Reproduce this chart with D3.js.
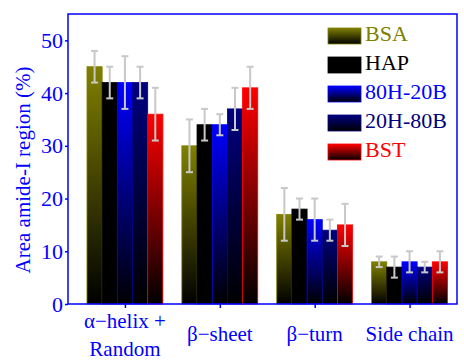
<!DOCTYPE html>
<html>
<head>
<meta charset="utf-8">
<script src="https://cdn.jsdelivr.net/npm/d3@7"></script>
<style>
  body { margin: 0; background: #fff; }
  svg { display: block; font-family: "Liberation Serif", serif; }
</style>
</head>
<body>
<svg id="chart" width="464" height="360"></svg>
<script>
// data
const categories = [["\u03b1\u2212helix +", "Random"], ["\u03b2\u2212sheet"], ["\u03b2\u2212turn"], ["Side chain"]];
const series = ["BSA", "HAP", "80H-20B", "20H-80B", "BST"];
const colors = ["#808000", "#000000", "#0000ff", "#000080", "#ff0000"];
const values = [
  [45, 30, 17, 8],
  [42, 34, 18, 7],
  [42, 34, 16, 8],
  [42, 37, 14, 7],
  [36, 41, 15, 8]
];
const errors = [
  [3, 5, 5, 1],
  [3, 3, 2, 2],
  [5, 2, 4, 2],
  [3, 4, 2, 1],
  [5, 4, 4, 2]
];
const yTicks = [0, 10, 20, 30, 40, 50];

const svg = d3.select("#chart");
const mLeft = 68, mRight = 457, mTop = 14, mBottom = 304;
const font = "'Liberation Serif', serif";

const x = d3.scaleLinear().domain([0.4, 4.5]).range([mLeft, mRight]);
const y = d3.scaleLinear().domain([0, 55]).range([mBottom, mTop]);
const barW = x(0.16) - x(0);

// gradients, colour at the top fading to black
const defs = svg.append("defs");
colors.forEach((c, i) => {
  const g = defs.append("linearGradient")
    .attr("id", "grad" + i)
    .attr("x1", 0).attr("y1", 0).attr("x2", 0).attr("y2", 1);
  g.append("stop").attr("offset", "0%").attr("stop-color", c);
  g.append("stop").attr("offset", "100%").attr("stop-color", "#000");
});

// bars
series.forEach((s, si) => {
  const grp = svg.append("g");
  values[si].forEach((v, ci) => {
    const cx = x(ci + 1) + (si - 2) * barW;
    grp.append("rect")
      .attr("x", cx - barW / 2)
      .attr("y", y(v))
      .attr("width", barW)
      .attr("height", y(0) - y(v))
      .attr("fill", "url(#grad" + si + ")")
      .attr("stroke", colors[si])
      .attr("stroke-width", 0.8);
  });
});

// error bars
series.forEach((s, si) => {
  values[si].forEach((v, ci) => {
    const cx = x(ci + 1) + (si - 2) * barW;
    const e = errors[si][ci];
    const g = svg.append("g").attr("stroke", "#c8c8c8").attr("stroke-width", 2);
    g.append("line").attr("x1", cx).attr("x2", cx).attr("y1", y(v + e)).attr("y2", y(v - e));
    g.append("line").attr("x1", cx - 3.5).attr("x2", cx + 3.5).attr("y1", y(v + e)).attr("y2", y(v + e));
    g.append("line").attr("x1", cx - 3.5).attr("x2", cx + 3.5).attr("y1", y(v - e)).attr("y2", y(v - e));
  });
});

// frame
svg.append("rect")
  .attr("x", mLeft).attr("y", mTop)
  .attr("width", mRight - mLeft).attr("height", mBottom - mTop)
  .attr("fill", "none").attr("stroke", "#0000ff").attr("stroke-width", 1.5);

// y axis
const yAxis = svg.append("g")
  .attr("transform", `translate(${mLeft},0)`)
  .call(d3.axisLeft(y).tickValues(yTicks).tickSize(3).tickPadding(2));
yAxis.select(".domain").remove();
yAxis.selectAll("line").attr("stroke", "#0000ff").attr("stroke-width", 1.5);
yAxis.selectAll("text")
  .attr("fill", "#0000ff")
  .style("font-family", font)
  .style("font-size", "22px");

// x axis ticks
const xAxis = svg.append("g")
  .attr("transform", `translate(0,${mBottom})`)
  .call(d3.axisBottom(x).tickValues([1, 2, 3, 4]).tickSize(4).tickFormat(""));
xAxis.select(".domain").remove();
xAxis.selectAll("line").attr("stroke", "#0000ff").attr("stroke-width", 1.5);

// category labels
categories.forEach((lines, ci) => {
  const t = svg.append("text")
    .attr("x", x(ci + 1))
    .attr("text-anchor", "middle")
    .attr("fill", "#0000ff")
    .style("font-family", font)
    .style("font-size", "21px");
  const y0 = lines.length > 1 ? 328 : 341;
  lines.forEach((ln, li) => {
    t.append("tspan").attr("x", x(ci + 1)).attr("y", y0 + li * 28).text(ln);
  });
});

// y title, sized so it spans about 220px like the original
const title = svg.append("text")
  .attr("transform", "translate(30,170) rotate(-90)")
  .attr("text-anchor", "middle")
  .attr("fill", "#0000ff")
  .style("font-family", font)
  .style("font-size", "19px")
  .text("Area amide-I region (%)");
const tLen = title.node().getComputedTextLength();
if (tLen > 0) title.style("font-size", Math.min(21, 19 * 220 / tLen) + "px");

// legend
const legend = svg.append("g");
series.forEach((s, i) => {
  const ly = 28 + i * 29;
  legend.append("rect")
    .attr("x", 328).attr("y", ly)
    .attr("width", 33).attr("height", 16)
    .attr("fill", "url(#grad" + i + ")")
    .attr("stroke", colors[i]).attr("stroke-width", 0.8);
  legend.append("text")
    .attr("x", 365).attr("y", ly + 13)
    .attr("fill", colors[i])
    .style("font-family", font)
    .style("font-size", "22px")
    .text(s);
});
</script>
</body>
</html>
